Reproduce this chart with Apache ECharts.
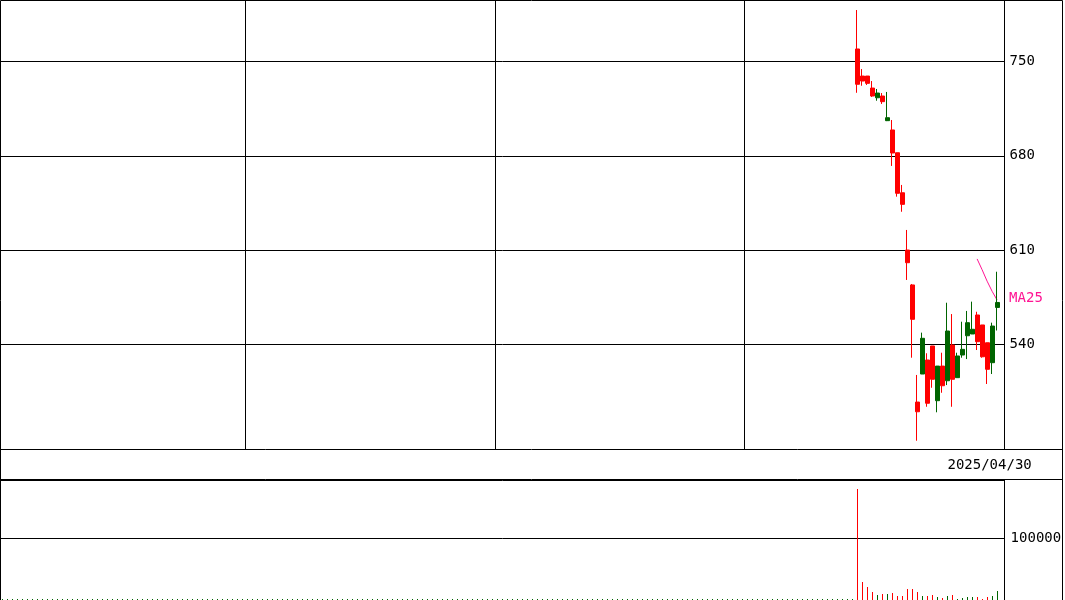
<!DOCTYPE html>
<html>
<head>
<meta charset="utf-8">
<script src="https://cdn.jsdelivr.net/npm/echarts@6/dist/echarts.min.js"></script>
<style>
  html, body { margin: 0; padding: 0; background: #fff; }
  #chart { width: 1065px; height: 600px; }
</style>
</head>
<body>
<div id="chart"></div>
<script>
// ---- data ----
const lastDate = '2025/04/30';
const opens  = [759.3, 739.2, 739.2, 730.3, 723.1, 724.4, 706.1, 699.2, 682.3, 652.6, 610.1, 584.2, 497.3, 518.1, 528.5, 538.9, 498.3, 524.0, 513.1, 539.6, 515.4, 532.2, 546.5, 547.8, 561.9, 554.5, 541.3, 526.5, 567.5];
const closes = [733.1, 735.5, 733.8, 724.4, 726.6, 720.2, 708.3, 682.1, 652.2, 644.0, 600.7, 558.7, 490.1, 544.6, 496.4, 514.2, 524.0, 509.4, 550.0, 514.2, 531.5, 536.4, 556.2, 551.3, 542.1, 530.9, 521.6, 553.7, 571.2];
const lows   = [726.8, 732.0, 732.6, 723.7, 720.9, 718.5, 705.8, 672.5, 649.7, 638.5, 587.9, 530.2, 468.6, 518.1, 493.8, 507.9, 489.7, 504.2, 509.9, 493.8, 515.4, 530.2, 529.2, 547.8, 535.9, 530.2, 510.7, 518.1, 550.4];
const highs  = [788.2, 744.4, 739.2, 735.5, 729.6, 726.6, 727.4, 706.6, 682.3, 658.4, 625.0, 584.9, 517.4, 548.8, 533.5, 538.9, 524.0, 533.9, 571.0, 562.6, 533.9, 556.9, 564.9, 571.8, 564.3, 554.5, 541.3, 556.2, 594.0];
const volumes = [180000, 29250, 21125, 13000, 8125, 9750, 9750, 11375, 6500, 6500, 17875, 17875, 13000, 6500, 6500, 8125, 4875, 3250, 6500, 8125, 1625, 3250, 4875, 4875, 4875, 1625, 4875, 6500, 14625];
const ma25 = [603.5, 595.5, 587.0, 579.5, 573.0];   // MA25 values for the last five sessions
const maLabel = 'MA25';
const priceTicks = [540, 610, 680, 750];
const volumeTicks = [100000];

// ---- slot layout of the category axis ----
const SLOT_COUNT = 201;
const FIRST_SLOT = 171;
const LAST_SLOT = FIRST_SLOT + opens.length - 1;
const gridSlots = [49, 99, 149];
const categories = Array.from({length: SLOT_COUNT}, (_, i) => i === LAST_SLOT ? lastDate : 's' + i);

const UP = '#006400';
const DOWN = '#ff0000';
const FONT = 'DejaVu Sans Mono';

const candleData = opens.map((o, k) => [FIRST_SLOT + k, o, closes[k], lows[k], highs[k]]);
// [slot, volume, isUp]; earlier empty sessions carry zero volume
const volumeData = [];
for (let i = 0; i < FIRST_SLOT; i++) volumeData.push([i, 0, 1]);
volumes.forEach((v, k) => volumeData.push([FIRST_SLOT + k, v, closes[k] < opens[k] ? 0 : 1]));
const maStartSlot = LAST_SLOT - ma25.length + 1;
const maData = ma25.map((v, k) => [maStartSlot + k, v]);

function renderVolume(params, api) {
  const base = api.coord([api.value(0), 0]);
  const top = api.coord([api.value(0), api.value(1)]);
  const x = Math.floor(base[0]);
  const h = Math.max(1, Math.round(base[1] - top[1]));
  return {
    type: 'rect',
    shape: { x: x, y: Math.round(base[1]) - h, width: 1, height: h },
    style: { fill: api.value(2) ? UP : DOWN }
  };
}

const chart = echarts.init(document.getElementById('chart'), null, { renderer: 'canvas' });
chart.setOption({
  animation: false,
  backgroundColor: '#ffffff',
  grid: [
    { left: 0, top: 0, width: 1004.6, height: 449 },
    { left: 0, top: 480, width: 1004.6, height: 120 }
  ],
  xAxis: [
    {
      type: 'category', gridIndex: 0, data: categories, boundaryGap: true,
      axisLine: { show: false }, axisTick: { show: false },
      splitLine: { show: true, interval: (idx) => gridSlots.includes(idx), lineStyle: { color: '#000', width: 1 } },
      axisLabel: {
        show: true, interval: (idx) => idx === LAST_SLOT,
        color: '#000', fontFamily: FONT, fontSize: 14, margin: 9,
        padding: [0, 15, 0, 0]
      }
    },
    {
      type: 'category', gridIndex: 1, data: categories, boundaryGap: true,
      axisLine: { show: false }, axisTick: { show: false },
      splitLine: { show: false }, axisLabel: { show: false }
    }
  ],
  yAxis: [
    {
      type: 'value', gridIndex: 0, position: 'right', min: 462.46, max: 795.64,
      axisLine: { show: true, lineStyle: { color: '#000', width: 1 } },
      axisTick: { show: false }, axisLabel: { show: false }, splitLine: { show: false }
    },
    {
      type: 'value', gridIndex: 1, position: 'right', min: 0, max: 195000, interval: 100000,
      axisLine: { show: true, lineStyle: { color: '#000', width: 1 } },
      axisTick: { show: false },
      axisLabel: {
        show: true, margin: 6, color: '#000', fontFamily: FONT, fontSize: 14,
        formatter: (v) => volumeTicks.includes(v) ? String(v) : ''
      },
      splitLine: { show: true, lineStyle: { color: '#000', width: 1 } }
    }
  ],
  series: [
    {
      name: maLabel, type: 'line', xAxisIndex: 0, yAxisIndex: 0, z: 1,
      data: maData, symbol: 'none', showSymbol: false,
      lineStyle: { color: '#ff1493', width: 1 },
      endLabel: {
        show: true, formatter: maLabel, color: '#ff1493', fontFamily: FONT, fontSize: 14,
        distance: 12, offset: [0, -2]
      },
      markLine: {
        silent: true, z: 1, symbol: ['none', 'none'],
        lineStyle: { color: '#000', width: 1, type: 'solid' },
        label: { show: true, position: 'end', distance: 5, color: '#000', fontFamily: FONT, fontSize: 14, formatter: (p) => String(p.value) },
        data: priceTicks.map(v => ({ yAxis: v }))
      }
    },
    {
      type: 'candlestick', xAxisIndex: 0, yAxisIndex: 0, z: 3,
      data: candleData, encode: { x: 0, y: [1, 2, 3, 4] },
      barWidth: 4.5,
      itemStyle: { color: UP, color0: DOWN, borderColor: UP, borderColor0: DOWN, borderWidth: 1 }
    },
    {
      type: 'custom', xAxisIndex: 1, yAxisIndex: 1,
      data: volumeData, encode: { x: 0, y: 1 }, renderItem: renderVolume
    }
  ],
  graphic: [
    { type: 'rect', silent: true, z: 100, shape: { x: 0.5, y: 0.5, width: 1062, height: 620 }, style: { fill: null, stroke: '#000', lineWidth: 1 } },
    { type: 'line', silent: true, z: 100, shape: { x1: 0, y1: 449.5, x2: 1063, y2: 449.5 }, style: { stroke: '#000', lineWidth: 1 } },
    { type: 'line', silent: true, z: 100, shape: { x1: 0, y1: 479.5, x2: 1063, y2: 479.5 }, style: { stroke: '#000', lineWidth: 1 } }
  ]
});
</script>
</body>
</html>
